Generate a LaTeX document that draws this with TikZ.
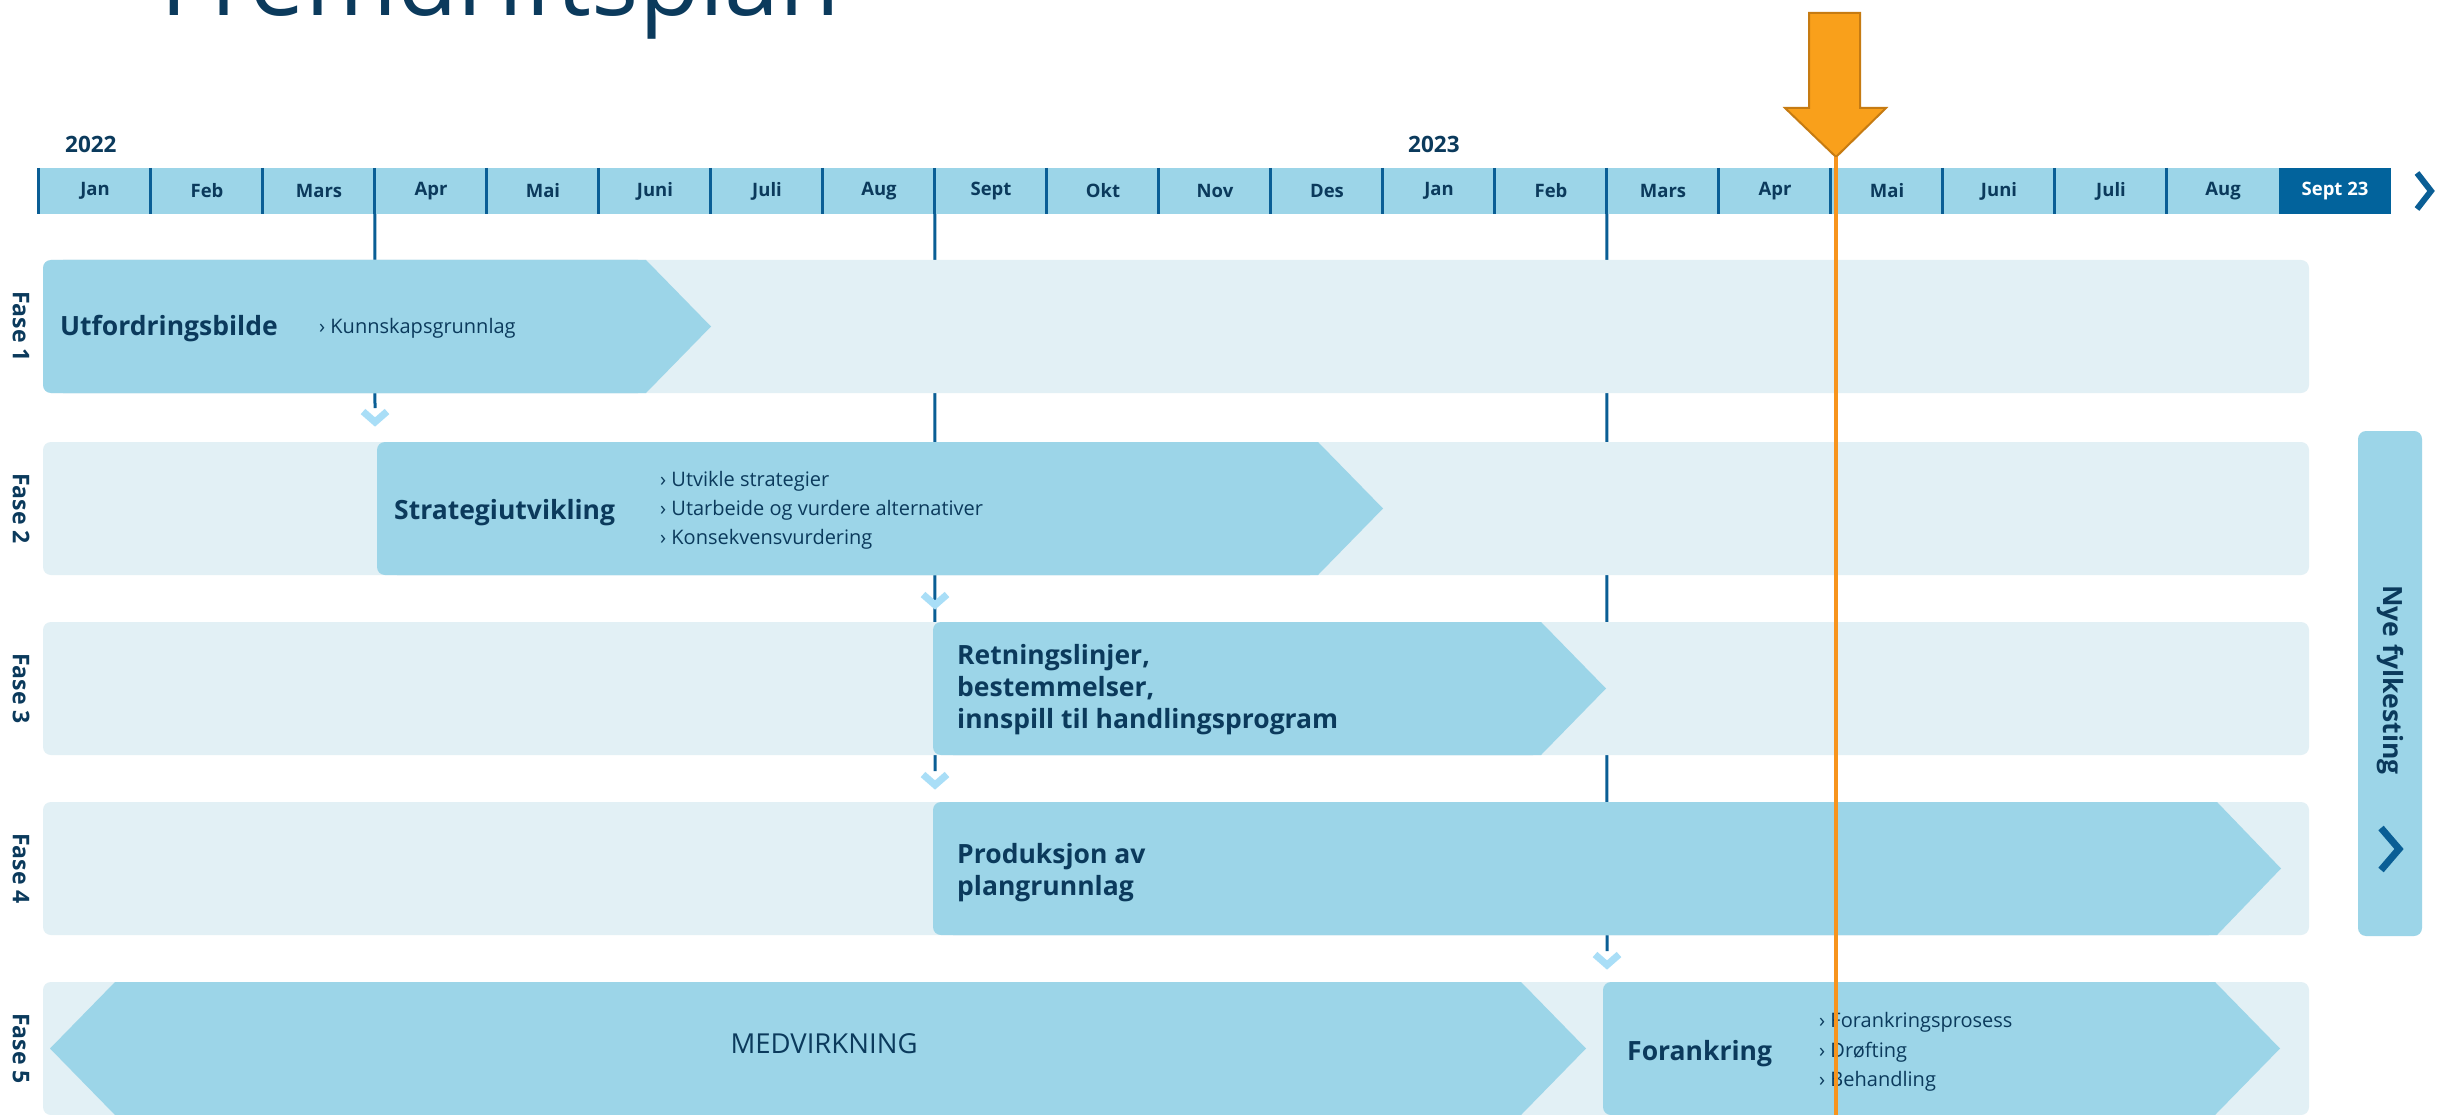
\documentclass[tikz,border=0pt]{standalone}
\usepackage{fontspec}
\setmainfont{Open Sans}
\definecolor{navy}{HTML}{0B3A5C}
\definecolor{rowbg}{HTML}{E2F0F5}
\definecolor{phfill}{HTML}{9CD5E8}
\definecolor{sepblue}{HTML}{0A5E95}
\definecolor{septfill}{HTML}{02639C}
\definecolor{chev}{HTML}{A9DEF7}
\definecolor{orfill}{HTML}{F9A01B}
\definecolor{orborder}{HTML}{C67B12}
\definecolor{orline}{HTML}{F7941D}
\newcommand{\fsz}[1]{\fontsize{#1}{#1}\selectfont}
\newcommand{\fasepil}[5]{% x0, notch, tip, top, bottom
  \fill[phfill, rounded corners=8pt] ({#1},{#4}) rectangle ({#2},{#5});
  \fill[phfill] ({#1+20},{#4}) -- ({#2},{#4}) -- ({#3},{(#4+#5)/2}) -- ({#2},{#5}) -- ({#1+20},{#5}) -- cycle;}
\tikzset{
  cellbox/.style={minimum width=112pt, minimum height=46pt, inner sep=0pt, fill=phfill, text=navy, font=\fsz{18.5}\bfseries},
  sepline/.style={draw=sepblue, line width=3pt},
  vline/.style={draw=sepblue, line width=3pt},
  rowbox/.style={fill=rowbg, rounded corners=8pt, minimum width=2266pt, minimum height=133pt, inner sep=0pt},
  vchev/.style={draw=chev, line width=7pt, line join=miter, line cap=butt},
  headtxt/.style={anchor=base west, inner sep=0pt, text=navy, font=\fsz{26.5}\bfseries},
  bultxt/.style={anchor=base west, inner sep=0pt, text=navy, font=\fsz{20}},
  fasetxt/.style={rotate=-90, inner sep=0pt, text=navy, font=\fsz{23}\bfseries},
  yeartxt/.style={anchor=base west, inner sep=0pt, text=navy, font=\fsz{22.5}\bfseries},
}
\begin{document}
\begin{tikzpicture}[x=1pt,y=-1pt]
\useasboundingbox (0,0) rectangle (2441,1115);
\fill[white] (0,0) rectangle (2441,1115);
% title (cut off at top, as in the reference)
\begin{scope}
\clip (0,0) rectangle (2441,1115);
\node[anchor=base west, inner sep=0pt, text=navy, font=\fsz{99}] (title) at (160,16) {Fremdriftsplan};
\end{scope}
% years
\node[yeartxt] (y22) at (65,153) {2022};
\node[yeartxt] (y23) at (1408,153) {2023};
% timeline
\foreach \nm [count=\i from 0] in {Jan,Feb,Mars,Apr,Mai,Juni,Juli,Aug,Sept,Okt,Nov,Des,Jan,Feb,Mars,Apr,Mai,Juni,Juli,Aug}
  \node[cellbox] (m\i) at ({95+112*\i},191) {\nm};
\node[cellbox, fill=septfill, text=white] (m20) at ({95+112*20},191) {Sept 23};
\foreach \i in {0,...,19}
  \draw[sepline] (m\i.north west) -- (m\i.south west);
\draw[sepblue, line width=6pt, line join=miter] (2417,173) -- (2431,191) -- (2417,209);
% connectors from the timeline
\coordinate (ch1) at (375,408);
\coordinate (ch2a) at (935,591);
\coordinate (ch2) at (935,771);
\coordinate (ch3) at (1607,951);
\draw[vline] (m3.south west) -- (ch1);
\draw[vline] (m8.south west) -- (ch2);
\draw[vline] (m14.south west) -- (ch3);
% rows
\node[rowbox] (row1) at (1176,326.5) {};
\node[rowbox] (row2) at (1176,508.5) {};
\node[rowbox] (row3) at (1176,688.5) {};
\node[rowbox] (row4) at (1176,868.5) {};
\node[rowbox] (row5) at (1176,1048.5) {};
% phase arrows
\fasepil{43}{646}{711}{260}{393}
\fasepil{377}{1318}{1383}{442}{575}
\fasepil{933}{1541}{1606}{622}{755}
\fasepil{933}{2217}{2281}{802}{935}
\fill[phfill] (50,1048.5) -- (115,982) -- (1521,982) -- (1586,1048.5) -- (1521,1115) -- (115,1115) -- cycle;
\fasepil{1603}{2215}{2280}{982}{1115}
% chevrons
\foreach \c in {ch1,ch2a,ch2,ch3}
  \draw[vchev] ([shift={(-12,3.5)}]\c) -- ([shift={(0,14)}]\c) -- ([shift={(12,3.5)}]\c);
% phase labels
\node[fasetxt] (f1) at (21,326.5) {Fase 1};
\node[fasetxt] (f2) at (21,508.5) {Fase 2};
\node[fasetxt] (f3) at (21,688.5) {Fase 3};
\node[fasetxt] (f4) at (21,868.5) {Fase 4};
\node[fasetxt] (f5) at (21,1048.5) {Fase 5};
% texts
\node[headtxt] (p1h) at (60,335) {Utfordringsbilde};
\node[bultxt] (p1b) at (319,334) {› Kunnskapsgrunnlag};
\node[headtxt] (p2h) at (394,519) {Strategiutvikling};
\node[bultxt] (p2b1) at (660,486) {› Utvikle strategier};
\node[bultxt] (p2b2) at (660,515) {› Utarbeide og vurdere alternativer};
\node[bultxt] (p2b3) at (660,544) {› Konsekvensvurdering};
\node[headtxt] (p3h1) at (957,664) {Retningslinjer,};
\node[headtxt] (p3h2) at (957,696) {bestemmelser,};
\node[headtxt] (p3h3) at (957,728) {innspill til handlingsprogram};
\node[headtxt] (p4h1) at (957,863) {Produksjon av};
\node[headtxt] (p4h2) at (957,895) {plangrunnlag};
\node[inner sep=0pt, text=navy, font=\fsz{27.5}] (medv) at (824,1044) {MEDVIRKNING};
\node[headtxt] (p5h) at (1627,1060) {Forankring};
\node[bultxt] (p5b1) at (1819,1027) {› Forankringsprosess};
\node[bultxt] (p5b2) at (1819,1057) {› Drøfting};
\node[bultxt] (p5b3) at (1819,1086) {› Behandling};
% Nye fylkesting
\node[fill=phfill, rounded corners=8pt, minimum width=64pt, minimum height=505pt, inner sep=0pt] (nye) at (2390,683.5) {};
\node[rotate=-90, inner sep=0pt, text=navy, font=\fsz{26.5}\bfseries] (nyet) at (2390,680) {Nye fylkesting};
\draw[sepblue, line width=7pt, line join=miter] (2381,828) -- (2399,849) -- (2381,870);
% orange marker
\fill[orfill, draw=orborder, line width=2pt] (1809,13) -- (1860,13) -- (1860,108) -- (1886,108) -- (1836,157) -- (1785,108) -- (1809,108) -- cycle;
\coordinate (otip) at (1836,157);
\coordinate (obot) at (1836,1115);
\draw[orline, line width=4pt] (otip) -- (obot);
\end{tikzpicture}
\end{document}
